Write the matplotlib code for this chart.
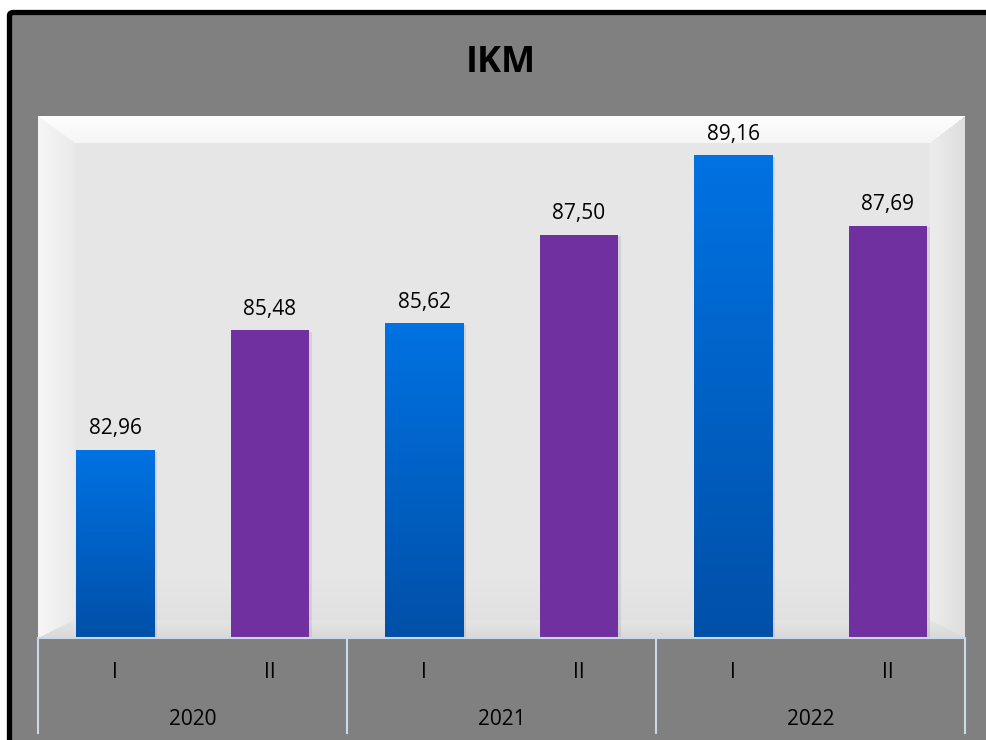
import numpy as np
import matplotlib
matplotlib.use('Agg')
import matplotlib.pyplot as plt
from matplotlib.patches import Rectangle, FancyBboxPatch
from matplotlib.colors import to_rgb
from matplotlib.transforms import blended_transform_factory

# DATA
years = ['2020', '2021', '2022']
semesters = ['I', 'II', 'I', 'II', 'I', 'II']
values = [82.96, 85.48, 85.62, 87.50, 89.16, 87.69]
labels = ['82,96', '85,48', '85,62', '87,50', '89,16', '87,69']

plt.rcParams['font.family'] = ['Open Sans', 'DejaVu Sans']

fig = plt.figure(figsize=(9.86, 7.4), dpi=100)
fig.patch.set_facecolor('white')

# grey chart area with black frame (only left/top visible)
W, H = 986, 740
frame = FancyBboxPatch((9.5 / W, -0.05), 1.2, 1 - 12.5 / H + 0.05,
                       boxstyle='round,pad=0,rounding_size=0.004',
                       transform=fig.transFigure, facecolor='#808080',
                       edgecolor='black', linewidth=3.8, zorder=0)
fig.patches.append(frame)

ax = fig.add_axes([38 / W, 1 - 638 / H, (965 - 38) / W, (638 - 116) / H])
ax.set_zorder(1)

# beveled plot area background
ph, pw = 522, 927
ii, jj = np.mgrid[0:ph, 0:pw]
bt, bb, bl, br = 27.0, 18.0, 37.0, 35.0
nt = ii / bt
nb = (ph - 1 - ii) / bb
nl = jj / bl
nr = (pw - 1 - jj) / br
stack = np.stack([nt, nb, nl, nr])
face = np.argmin(stack, axis=0)
tmin = np.clip(np.min(stack, axis=0), 0, 1)
val = np.full((ph, pw), 0.902)
inside = np.min(stack, axis=0) < 1
top_v = 0.995 - 0.035 * tmin
bot_v = 0.85 + 0.05 * tmin
left_v = 0.965 - 0.05 * tmin
right_v = 0.87 + 0.06 * tmin
val = np.where(inside & (face == 0), top_v, val)
val = np.where(inside & (face == 1), bot_v, val)
val = np.where(inside & (face == 2), left_v, val)
val = np.where(inside & (face == 3), right_v, val)
# slight darkening toward the bottom of the inner area
val = np.where(~inside, val - 0.03 * np.clip((ii - (ph - 60)) / 60, 0, 1), val)
img = np.dstack([val, val, val])
ax.imshow(img, extent=[0, 1, 0, 1], transform=ax.transAxes, aspect='auto',
          zorder=0, interpolation='bilinear')

x = np.arange(len(values))
ymin, ymax = 79, 90
bar_w = 0.505
bars = ax.bar(x, np.array(values) - ymin, bottom=ymin, width=bar_w,
              color='none', zorder=3)

blue_top, blue_bot = np.array(to_rgb('#0072E2')), np.array(to_rgb('#0050A8'))
purple = '#7030A0'
for i, b in enumerate(bars):
    x0, y0 = b.get_x(), b.get_y()
    bw, bh = b.get_width(), b.get_height()
    # soft shadow
    ax.add_patch(Rectangle((x0 + 0.02, y0), bw, bh - 0.03, facecolor='black',
                           alpha=0.08, linewidth=0, zorder=2))
    if semesters[i] == 'I':
        t = np.linspace(0, 1, 100)[:, None]
        grad = blue_top * (1 - t) + blue_bot * t
        grad = np.repeat(grad[:, None, :], 2, axis=1)
        ax.imshow(grad, extent=[x0, x0 + bw, y0, y0 + bh], aspect='auto',
                  zorder=3, interpolation='nearest')
    else:
        ax.add_patch(Rectangle((x0, y0), bw, bh, facecolor=purple,
                               linewidth=0, zorder=3))
    ax.annotate(labels[i], (x[i], values[i]), xytext=(0, 11.5),
                textcoords='offset points', ha='center', va='baseline',
                fontsize=15, color='black', zorder=5)

ax.set_xlim(-0.5, len(values) - 0.5)
ax.set_ylim(ymin, ymax)
ax.set_xticks([])
ax.set_yticks([])
for s in ax.spines.values():
    s.set_visible(False)

# multi-level category axis
line_c = '#C9D9EA'
trans = blended_transform_factory(ax.transData, ax.transAxes)
ax.plot([-0.5, len(values) - 0.5], [0, 0], transform=trans, color=line_c,
        linewidth=1.5, clip_on=False, zorder=6)
for sx in [-0.5, 1.5, 3.5, 5.5]:
    ax.plot([sx, sx], [0, -0.182], transform=trans, color=line_c,
            linewidth=1.5, clip_on=False, zorder=6)
for i, s in enumerate(semesters):
    ax.text(x[i], -0.067, s, transform=trans, ha='center', va='center',
            fontsize=15, color='black')
for k, yr in enumerate(years):
    ax.text(2 * k + 0.5, -0.157, yr, transform=trans, ha='center',
            va='center', fontsize=15, color='black')

fig.text(501 / W, 1 - 72 / H, 'IKM', ha='center', va='baseline',
         fontsize=26, fontweight='bold', color='black')

fig.savefig('out.png', dpi=100)
